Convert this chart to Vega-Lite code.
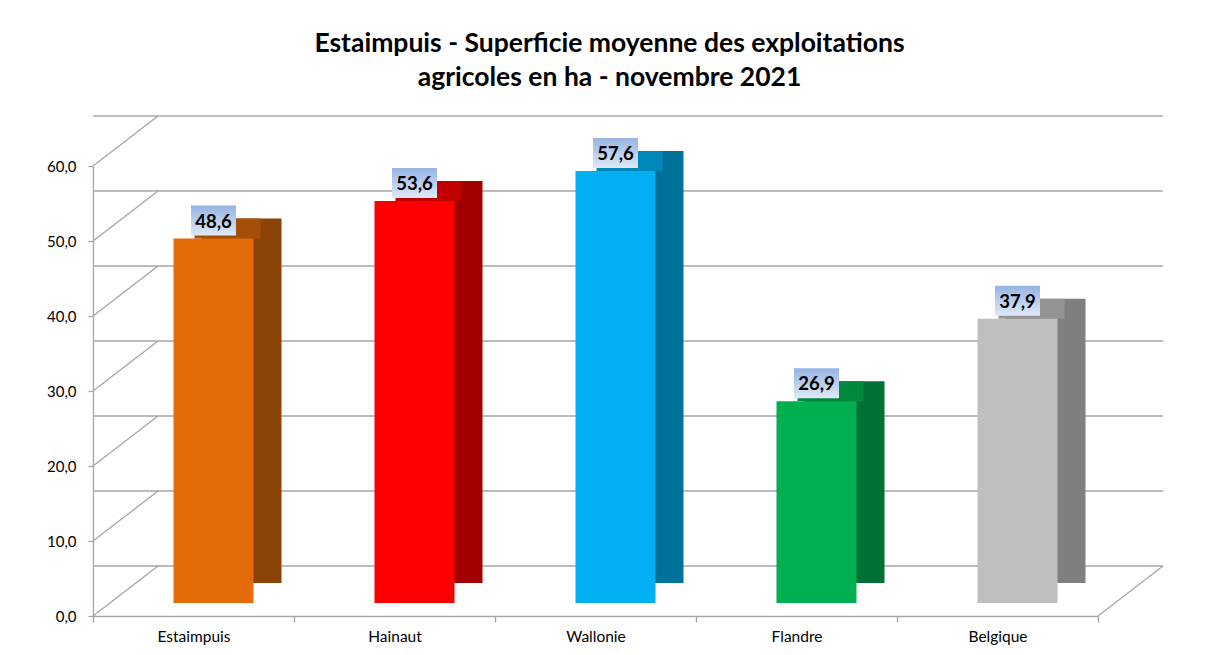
{
  "$schema": "https://vega.github.io/schema/vega-lite/v6.json",
  "width": 1005,
  "height": 450,
  "autosize": "none",
  "padding": {"left": 93, "top": 166, "right": 108, "bottom": 39},
  "background": "white",
  "title": {
    "text": ["Estaimpuis - Superficie moyenne des exploitations", "agricoles en ha - novembre 2021"],
    "font": "Lato",
    "fontSize": 26.5,
    "fontWeight": "bold",
    "color": "#000000",
    "anchor": "middle",
    "dx": 14,
    "offset": 24,
    "lineHeight": 34
  },
  "datasets": {
    "bars": [
      {"region": "Estaimpuis", "value": 48.6},
      {"region": "Hainaut", "value": 53.6},
      {"region": "Wallonie", "value": 57.6},
      {"region": "Flandre", "value": 26.9},
      {"region": "Belgique", "value": 37.9}
    ],
    "grid": [
      {"value": 0}, {"value": 10}, {"value": 20}, {"value": 30}, {"value": 40}, {"value": 50}, {"value": 60}
    ]
  },
  "config": {
    "locale": {"number": {"decimal": ",", "thousands": ".", "grouping": [3], "currency": ["", " €"]}},
    "view": {"stroke": null},
    "axis": {
      "labelFont": "Lato",
      "labelColor": "#000000",
      "domainColor": "#a6a6a6",
      "tickColor": "#a6a6a6",
      "domainWidth": 1.3,
      "tickWidth": 1.3,
      "grid": false,
      "title": null
    }
  },
  "resolve": {"scale": {"color": "independent"}},
  "layer": [
    {
      "data": {"name": "grid"},
      "mark": {"type": "rule", "color": "#a6a6a6", "strokeWidth": 1.3, "xOffset": 65, "x2Offset": 65, "yOffset": -50, "y2Offset": -50},
      "encoding": {
        "y": {"field": "value", "type": "quantitative", "scale": {"domain": [0, 60], "nice": false},
          "axis": {"values": [0, 10, 20, 30, 40, 50, 60], "format": ".1f", "labelFontSize": 15, "tickSize": 5, "labelPadding": 12}}
      }
    },
    {
      "data": {"name": "grid"},
      "mark": {"type": "rule", "color": "#a6a6a6", "strokeWidth": 1.3, "y2Offset": -50},
      "encoding": {
        "x": {"value": 0},
        "x2": {"value": 65},
        "y": {"field": "value", "type": "quantitative"},
        "y2": {"field": "value"}
      }
    },
    {
      "data": {"values": [{"value": 0}]},
      "mark": {"type": "rule", "color": "#a6a6a6", "strokeWidth": 1.3, "y2Offset": -50},
      "encoding": {
        "x": {"value": 1005},
        "x2": {"value": 1070},
        "y": {"field": "value", "type": "quantitative"},
        "y2": {"field": "value"}
      }
    },
    {
      "data": {"name": "bars"},
      "mark": {"type": "bar", "width": 80, "xOffset": 48, "yOffset": -33, "y2Offset": -33},
      "encoding": {
        "x": {"field": "region", "type": "nominal", "sort": null, "scale": {"paddingInner": 0, "paddingOuter": 0},
          "axis": {"labelAngle": 0, "labelFontSize": 15.5, "tickBand": "extent", "tickSize": 6, "labelPadding": 7}},
        "y": {"field": "value", "type": "quantitative"},
        "y2": {"datum": 0},
        "color": {"field": "region", "type": "nominal", "legend": null,
          "scale": {"domain": ["Estaimpuis", "Hainaut", "Wallonie", "Flandre", "Belgique"],
            "range": ["#8b4308", "#a00000", "#00719b", "#007035", "#7f7f7f"]}}
      }
    },
    {
      "data": {"name": "bars"},
      "mark": {"type": "bar", "width": 66, "xOffset": 34, "yOffset": -33, "y2Offset": -13},
      "encoding": {
        "x": {"field": "region", "type": "nominal", "sort": null},
        "y": {"field": "value", "type": "quantitative"},
        "y2": {"field": "value"},
        "color": {"field": "region", "type": "nominal", "legend": null,
          "scale": {"domain": ["Estaimpuis", "Hainaut", "Wallonie", "Flandre", "Belgique"],
            "range": ["#a54e09", "#c00000", "#0088ba", "#00883f", "#939393"]}}
      }
    },
    {
      "data": {"name": "bars"},
      "mark": {"type": "bar", "width": 80, "xOffset": 20, "yOffset": -13, "y2Offset": -13},
      "encoding": {
        "x": {"field": "region", "type": "nominal", "sort": null},
        "y": {"field": "value", "type": "quantitative"},
        "y2": {"datum": 0},
        "color": {"field": "region", "type": "nominal", "legend": null,
          "scale": {"domain": ["Estaimpuis", "Hainaut", "Wallonie", "Flandre", "Belgique"],
            "range": ["#e36c09", "#ff0000", "#00b0f0", "#00b050", "#bfbfbf"]}}
      }
    },
    {
      "data": {"name": "bars"},
      "mark": {"type": "point", "filled": true, "opacity": 1, "shape": "M-1,-0.667H1V0.667H-1Z", "size": 2025, "xOffset": 20, "yOffset": -31,
        "fill": {"gradient": "linear", "x1": 0, "y1": 0, "x2": 0, "y2": 1, "stops": [{"offset": 0, "color": "#95b3e3"}, {"offset": 1, "color": "#e0e9f6"}]}},
      "encoding": {
        "x": {"field": "region", "type": "nominal", "sort": null},
        "y": {"field": "value", "type": "quantitative"}
      }
    },
    {
      "data": {"name": "bars"},
      "mark": {"type": "text", "font": "Lato", "fontSize": 18.5, "fontWeight": "bold", "color": "#000000", "baseline": "middle", "xOffset": 20, "yOffset": -30},
      "encoding": {
        "x": {"field": "region", "type": "nominal", "sort": null},
        "y": {"field": "value", "type": "quantitative"},
        "text": {"field": "value", "type": "quantitative", "format": ".1f"}
      }
    }
  ]
}
